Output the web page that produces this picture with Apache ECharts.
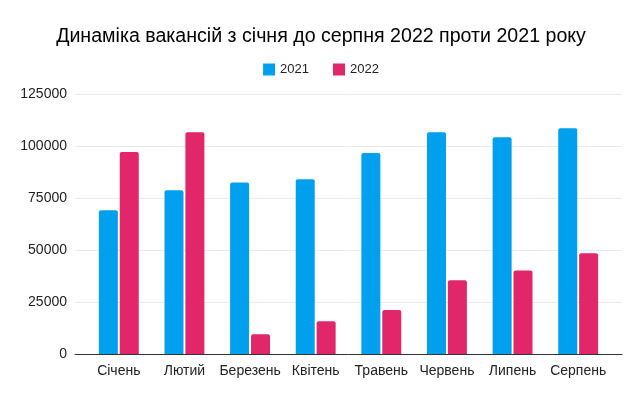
<!DOCTYPE html>
<html>
<head>
<meta charset="utf-8">
<script src="https://cdn.jsdelivr.net/npm/echarts@6/dist/echarts.min.js"></script>
<style>
  html, body { margin: 0; padding: 0; background: #fff; }
  #chart { width: 642px; height: 397px; }
</style>
</head>
<body>
<div id="chart"></div>
<script>
// місяці
var months = ['Січень', 'Лютий', 'Березень', 'Квітень', 'Травень', 'Червень', 'Липень', 'Серпень'];
// вакансії
var vac2021 = [69100, 78700, 82500, 84000, 96600, 106600, 104200, 108500];
var vac2022 = [97100, 106600, 9500, 15700, 21200, 35400, 40200, 48400];
var yTicks = [0, 25000, 50000, 75000, 100000, 125000];

var chart = echarts.init(document.getElementById('chart'), null, { renderer: 'canvas' });

var yMin = yTicks[0], yMax = yTicks[yTicks.length - 1];

var option = {
  backgroundColor: '#fff',
  textStyle: { fontFamily: 'Liberation Sans, Arial, sans-serif' },
  title: {
    text: 'Динаміка вакансій з січня до серпня 2022 проти 2021 року',
    left: 'center', top: 22,
    textStyle: { fontSize: 19.6, fontWeight: 'normal', color: '#000' }
  },
  legend: {
    top: 58, left: 'center',
    itemWidth: 12, itemHeight: 12, itemGap: 24,
    icon: 'rect',
    textStyle: { fontSize: 13, color: '#222' },
    data: ['2021', '2022']
  },
  // grid 0 - лінії сітки та вісь, grid 1 - стовпці (трохи відступ з боків)
  grid: [
    { left: 75, right: 20, top: 94, bottom: 43 },
    { left: 86, right: 31, top: 94, bottom: 43 }
  ],
  xAxis: [
    {
      gridIndex: 0, type: 'category', data: [''],
      axisLine: { lineStyle: { color: '#333', width: 1 } },
      axisTick: { show: false }, axisLabel: { show: false }
    },
    {
      gridIndex: 1, type: 'category', data: months,
      axisLine: { show: false }, axisTick: { show: false },
      axisLabel: { fontSize: 14, color: '#222', margin: 10, interval: 0 }
    }
  ],
  yAxis: [
    {
      gridIndex: 0, type: 'value',
      min: yMin, max: yMax, interval: 25000,
      axisLine: { show: false }, axisTick: { show: false },
      splitLine: { lineStyle: { color: '#ebebeb' } },
      axisLabel: { fontSize: 14, color: '#222', margin: 8, formatter: function (v) { return String(v); } }
    },
    {
      gridIndex: 1, type: 'value',
      min: yMin, max: yMax, interval: 25000,
      show: false, splitLine: { show: false }
    }
  ],
  series: [
    {
      name: '2021', type: 'bar', data: vac2021,
      xAxisIndex: 1, yAxisIndex: 1,
      barWidth: 19, barGap: '10%',
      itemStyle: { color: '#00a0ee', borderRadius: [2, 2, 0, 0] }
    },
    {
      name: '2022', type: 'bar', data: vac2022,
      xAxisIndex: 1, yAxisIndex: 1,
      barWidth: 19,
      itemStyle: { color: '#e2266a', borderRadius: [2, 2, 0, 0] }
    }
  ]
};
chart.setOption(option);
</script>
</body>
</html>
